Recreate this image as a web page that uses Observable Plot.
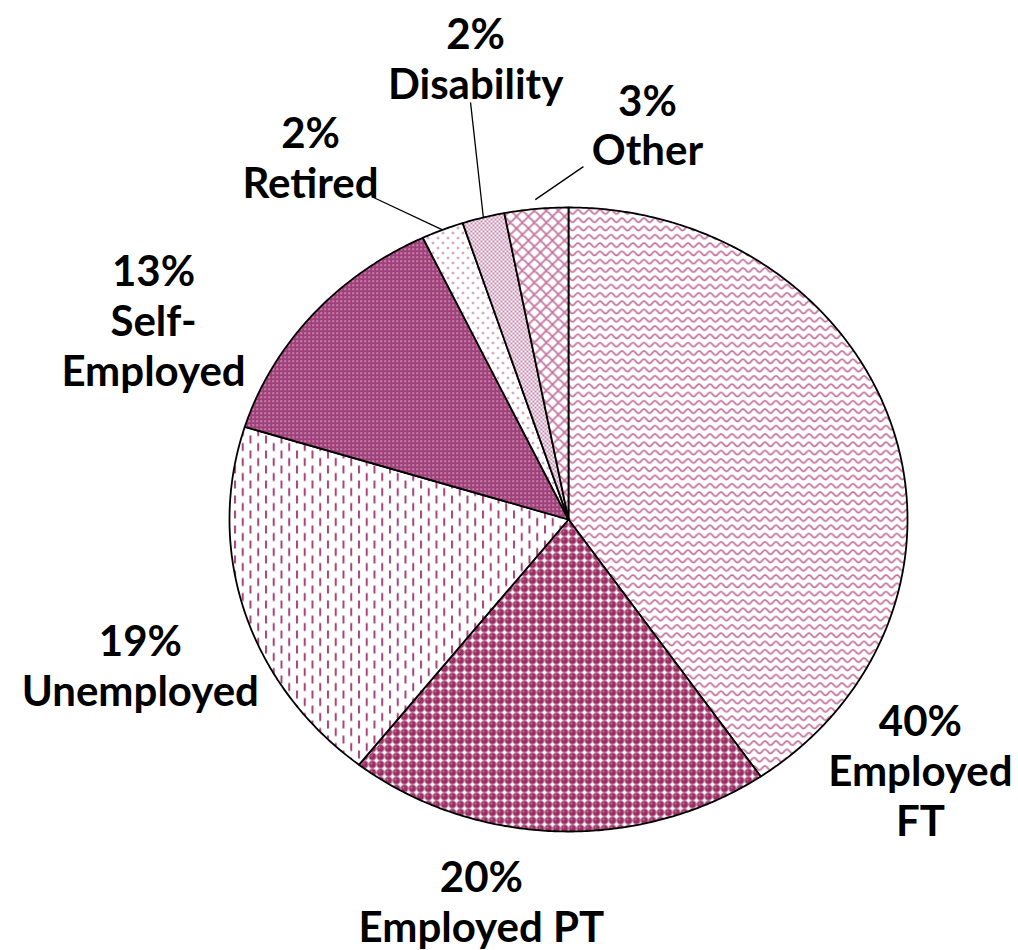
<!DOCTYPE html>
<html>
<head>
<meta charset="utf-8">
<script src="https://cdn.jsdelivr.net/npm/d3@7"></script>
<script src="https://cdn.jsdelivr.net/npm/@observablehq/plot@0.6"></script>
<style>
  html, body { margin: 0; padding: 0; background: #fff; }
</style>
</head>
<body>
<div id="chart"></div>
<script>
// ---- data ----
const categories = ["Employed FT", "Employed PT", "Unemployed", "Self-Employed", "Retired", "Disability", "Other"];
const values = [40, 20, 19, 13, 2, 2, 3];
const labelLines = [["Employed", "FT"], ["Employed PT"], ["Unemployed"], ["Self-", "Employed"], ["Retired"], ["Disability"], ["Other"]];

// ---- layout (pie units: 1 = radius) ----
const W = 1018, H = 950;
const CX = 568, CY = 519, RX = 339, RY = 312;
const labelPos = [[1.038, -0.804], [-0.257, -1.224], [-1.263, -0.465], [-1.224, 0.638], [-0.761, 1.163], [-0.274, 1.478], [0.233, 1.266]];
const leaderStart = [null, null, null, null, [-0.575, 1.032], [-0.289, 1.337], [0.044, 1.131]];
const leaderR = [0, 0, 0, 0, 1.0, 1.0, 1.03];

// ---- geometry from data ----
const total = d3.sum(values);
let acc = 0;
const slices = values.map((v, i) => {
  const a0 = acc / total * 2 * Math.PI;
  acc += v;
  const a1 = acc / total * 2 * Math.PI;
  return {i, name: categories[i], value: v, a0, a1, mid: (a0 + a1) / 2};
});
const polyPoints = slices.map(s => {
  const pts = [{x: 0, y: 0}];
  const n = Math.max(4, Math.ceil((s.a1 - s.a0) / (Math.PI / 360)));
  for (let k = 0; k <= n; k++) {
    const a = s.a0 + (s.a1 - s.a0) * k / n;
    pts.push({x: Math.sin(a), y: Math.cos(a)});
  }
  pts.push({x: 0, y: 0});
  return pts;
});
const labels = slices.map(s => ({
  x: labelPos[s.i][0], y: labelPos[s.i][1],
  text: [`${s.value}%`, ...labelLines[s.i]].join("\n")
}));
const leaders = slices.filter(s => leaderStart[s.i]).map(s => ({
  x1: leaderStart[s.i][0], y1: leaderStart[s.i][1],
  x2: Math.sin(s.mid) * leaderR[s.i], y2: Math.cos(s.mid) * leaderR[s.i]
}));

const chart = Plot.plot({
  width: W, height: H, margin: 0,
  x: {domain: [-CX / RX, (W - CX) / RX], axis: null},
  y: {domain: [-(H - CY) / RY, CY / RY], axis: null},
  style: {background: "#fff"},
  marks: [
    ...polyPoints.map((pts, i) => Plot.line(pts, {
      x: "x", y: "y", fill: `url(#pat${i})`, stroke: "#000", strokeWidth: 1.8, strokeLinejoin: "round"
    })),
    Plot.link(leaders, {x1: "x1", y1: "y1", x2: "x2", y2: "y2", stroke: "#000", strokeWidth: 1.3}),
    Plot.text(labels, {
      x: "x", y: "y", text: "text", fontSize: 42, fontWeight: "bold",
      fontFamily: "Lato, 'DejaVu Sans', sans-serif", lineHeight: 1.19, fill: "#000"
    })
  ]
});

// ---- fill patterns ----
const defs = d3.select(chart).insert("defs", ":first-child");
function pat(id, w, h) {
  const p = defs.append("pattern").attr("id", id).attr("patternUnits", "userSpaceOnUse")
    .attr("width", w).attr("height", h);
  p.append("rect").attr("width", w).attr("height", h).attr("fill", "#fff");
  return p;
}
// 0 Employed FT: waves
let p = pat("pat0", 11, 8.3);
p.append("path").attr("d", "M-0.5,6.2 C2.2,6.2 3.3,1.8 5.5,1.8 C7.7,1.8 8.8,6.2 11.5,6.2")
  .attr("fill", "none").attr("stroke", "#c26c99").attr("stroke-width", 1.7);
// 1 Employed PT: spheres
p = pat("pat1", 8, 8);
p.append("circle").attr("cx", 4).attr("cy", 4).attr("r", 3.7).attr("fill", "#9a2d64");
p.append("circle").attr("cx", 3).attr("cy", 3).attr("r", 1).attr("fill", "#c17ba0");
// 2 Unemployed: staggered vertical dashes
p = pat("pat2", 15.5, 15);
p.append("rect").attr("x", 1).attr("y", 0).attr("width", 2).attr("height", 8).attr("fill", "#a2457a");
p.append("rect").attr("x", 8.75).attr("y", 7.5).attr("width", 2).attr("height", 8).attr("fill", "#a2457a");
p.append("rect").attr("x", 8.75).attr("y", -7.5).attr("width", 2).attr("height", 8).attr("fill", "#a2457a");
// 3 Self-Employed: dark with small light dots
p = pat("pat3", 4, 4);
p.append("rect").attr("width", 4).attr("height", 4).attr("fill", "#a0407a");
p.append("rect").attr("x", 0).attr("y", 0).attr("width", 1.3).attr("height", 1.3).attr("fill", "#f3dbe7");
// 4 Retired: sparse dots
p = pat("pat4", 10, 10);
p.append("circle").attr("cx", 2.5).attr("cy", 2.5).attr("r", 1.1).attr("fill", "#b0598b");
p.append("circle").attr("cx", 7.5).attr("cy", 7.5).attr("r", 1.1).attr("fill", "#b0598b");
// 5 Disability: fine dots
p = pat("pat5", 4, 4);
p.append("circle").attr("cx", 1).attr("cy", 1).attr("r", 1).attr("fill", "#b55f8f");
p.append("circle").attr("cx", 3).attr("cy", 3).attr("r", 1).attr("fill", "#b55f8f");
// 6 Other: diagonal crosshatch
p = pat("pat6", 12, 12);
p.append("path").attr("d", "M0,0 L12,12 M12,0 L0,12 M-1,11 L1,13 M11,-1 L13,1 M-1,1 L1,-1 M11,13 L13,11")
  .attr("fill", "none").attr("stroke", "#c26f9c").attr("stroke-width", 1.6);

document.getElementById("chart").appendChild(chart);
</script>
</body>
</html>
